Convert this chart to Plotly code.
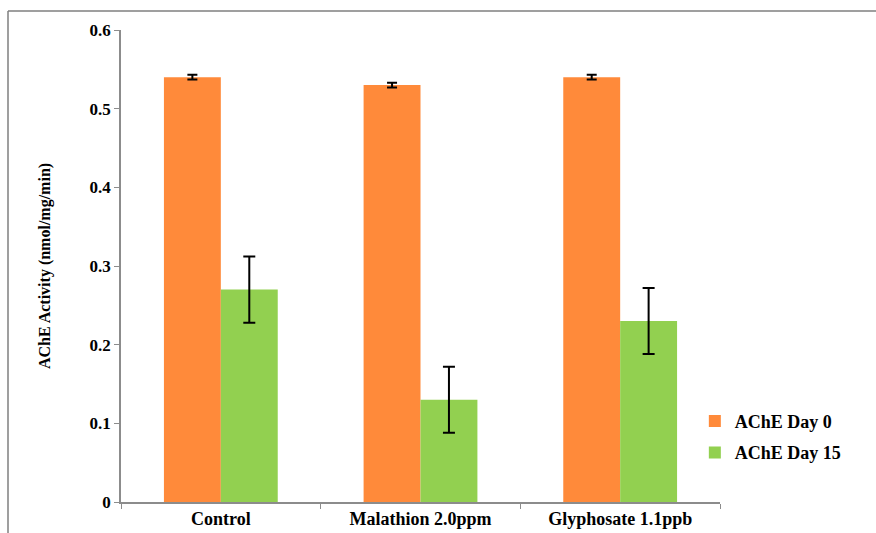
import plotly.graph_objects as go

categories = ["Control", "Malathion 2.0ppm", "Glyphosate 1.1ppb"]
day0_values = [0.54, 0.53, 0.54]
day0_errors = [0.003, 0.003, 0.003]
day15_values = [0.27, 0.13, 0.23]
day15_errors = [0.042, 0.042, 0.042]
y_ticks = [0, 0.1, 0.2, 0.3, 0.4, 0.5, 0.6]
y_tick_labels = ["0", "0.1", "0.2", "0.3", "0.4", "0.5", "0.6"]

FONT = "Liberation Serif"

fig = go.Figure()
fig.add_trace(go.Bar(
    name="<b>AChE Day 0</b>", x=categories, y=day0_values,
    marker=dict(color="#FF8A3A", line=dict(width=0)),
    error_y=dict(type="data", array=day0_errors, color="black", thickness=2, width=5),
    legendgroup="a",
))
fig.add_trace(go.Bar(
    name="<b>AChE Day 15</b>", x=categories, y=day15_values,
    marker=dict(color="#92D050", line=dict(width=0)),
    error_y=dict(type="data", array=day15_errors, color="black", thickness=2, width=6),
    legendgroup="b",
))

fig.update_layout(
    width=876, height=533,
    margin=dict(l=121, r=156, t=30, b=31),
    barmode="group", bargap=0.43, bargroupgap=0,
    plot_bgcolor="white", paper_bgcolor="white",
    font=dict(family=FONT, color="black", size=14),
    showlegend=True,
    legend=dict(x=0.958, xanchor="left", y=0.138, yanchor="middle",
                font=dict(family=FONT, size=18, color="black"),
                tracegroupgap=5, traceorder="grouped",
                itemwidth=30, bgcolor="rgba(0,0,0,0)"),
    xaxis=dict(
        tickmode="array", tickvals=categories,
        ticktext=["<b>%s</b>" % c for c in categories],
        tickfont=dict(family=FONT, size=18, color="black"),
        showline=True, linecolor="#8c8c8c", linewidth=1.5,
        ticks="outside", tickson="boundaries", ticklen=5, tickcolor="#8c8c8c",
        showgrid=False, zeroline=False, automargin=False,
    ),
    yaxis=dict(
        range=[0, 0.6], tickmode="array", tickvals=y_ticks,
        ticktext=["<b>%s</b>" % t for t in y_tick_labels],
        tickfont=dict(family=FONT, size=17, color="black"),
        showline=True, linecolor="#8c8c8c", linewidth=1.5,
        ticks="outside", ticklen=5, tickcolor="#8c8c8c",
        showgrid=False, zeroline=False, automargin=False,
        title=dict(text="<b>AChE Activity (nmol/mg/min)</b>",
                   font=dict(family=FONT, size=16, color="black"), standoff=35),
    ),
    shapes=[
        dict(type="line", xref="paper", yref="paper",
             x0=(8 - 121) / 599, x1=(876 - 121) / 599,
             y0=(533 - 31 - 11) / 472, y1=(533 - 31 - 11) / 472,
             line=dict(color="#7f7f7f", width=1.5)),
        dict(type="line", xref="paper", yref="paper",
             x0=(8 - 121) / 599, x1=(8 - 121) / 599,
             y0=(533 - 31 - 11) / 472, y1=-31 / 472,
             line=dict(color="#7f7f7f", width=1.5)),
    ],
)

fig.write_html("out.html", config={"displayModeBar": False},
               post_script="document.body.style.margin='0';document.body.style.overflow='hidden';")
